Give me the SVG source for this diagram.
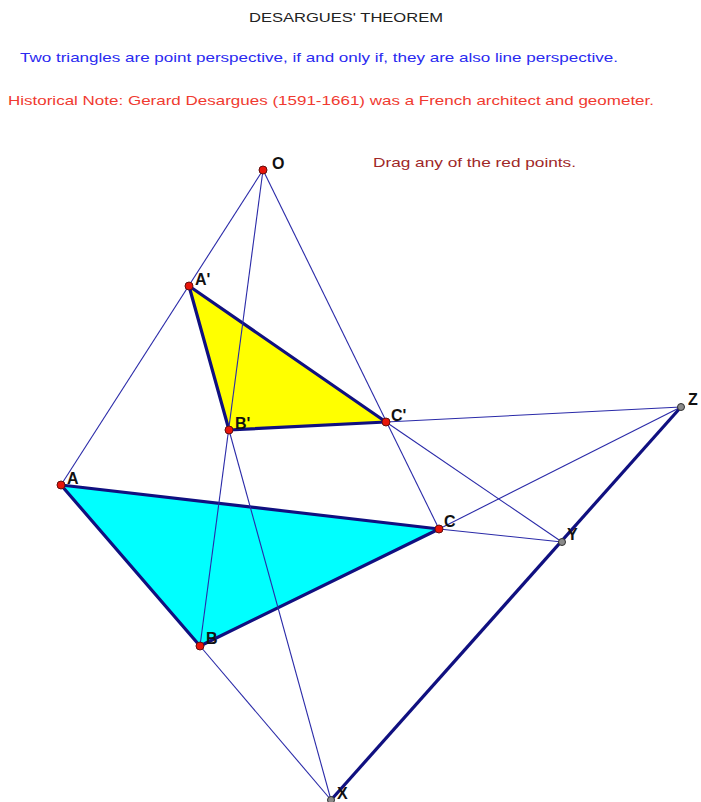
<svg xmlns="http://www.w3.org/2000/svg" width="701" height="802" viewBox="0 0 701 802">
<style>
.txt{font-family:"Liberation Sans",Arial,sans-serif;font-size:13px}
.lbl{font-family:"Liberation Sans",Arial,sans-serif;font-size:16px;font-weight:bold;fill:#111}
.thin{stroke:#2a2aa8;stroke-width:1.1;fill:none}
.thick{stroke:#101080;stroke-width:3.2;fill:none;stroke-linejoin:round}
.tri{stroke:#101080;stroke-width:3.2;stroke-linejoin:round}
.red{fill:#e8140a;stroke:#601010;stroke-width:1}
.gray{fill:#8a8a8a;stroke:#303030;stroke-width:1}
</style>
<rect width="701" height="802" fill="#fff"/>
<text class="txt" x="249" y="22" fill="#222" textLength="194" lengthAdjust="spacingAndGlyphs">DESARGUES' THEOREM</text>
<text class="txt" x="20" y="62" fill="#2a2af0" textLength="598" lengthAdjust="spacingAndGlyphs">Two triangles are point perspective, if and only if, they are also line perspective.</text>
<text class="txt" x="8" y="105" fill="#f03a30" textLength="646" lengthAdjust="spacingAndGlyphs">Historical Note: Gerard Desargues (1591-1661) was a French architect and geometer.</text>
<text class="txt" x="373" y="167" fill="#a02828" textLength="203" lengthAdjust="spacingAndGlyphs">Drag any of the red points.</text>
<g id="triangle-ABC"><polygon class="tri" points="61,485 439,529 200,646" fill="#00ffff"/></g>
<g id="triangle-A1B1C1"><polygon class="tri" points="189,286 386,422 229,430" fill="#ffff00"/></g>
<g id="connectors">
<line class="thin" x1="263" y1="170" x2="61" y2="485"/>
<line class="thin" x1="263" y1="170" x2="200" y2="646"/>
<line class="thin" x1="263" y1="170" x2="439" y2="529"/>
<line class="thin" x1="229" y1="430" x2="331" y2="800"/>
<line class="thin" x1="200" y1="646" x2="331" y2="800"/>
<line class="thin" x1="386" y1="422" x2="562" y2="542"/>
<line class="thin" x1="439" y1="529" x2="562" y2="542"/>
<line class="thin" x1="386" y1="422" x2="681" y2="407"/>
<line class="thin" x1="439" y1="529" x2="681" y2="407"/>
<line class="thick" x1="331" y1="800" x2="681" y2="407"/>
</g>
<g id="O"><circle class="red" cx="263" cy="170" r="4"/><text class="lbl" x="272" y="169">O</text></g>
<g id="A1"><circle class="red" cx="189" cy="286" r="4"/><text class="lbl" x="195" y="285">A'</text></g>
<g id="B1"><circle class="red" cx="229" cy="430" r="4"/><text class="lbl" x="235" y="429">B'</text></g>
<g id="C1"><circle class="red" cx="386" cy="422" r="4"/><text class="lbl" x="391" y="421">C'</text></g>
<g id="A"><circle class="red" cx="61" cy="485" r="4"/><text class="lbl" x="67" y="484">A</text></g>
<g id="B"><circle class="red" cx="200" cy="646" r="4"/><text class="lbl" x="206" y="644">B</text></g>
<g id="C"><circle class="red" cx="439" cy="529" r="4"/><text class="lbl" x="444" y="527">C</text></g>
<g id="X"><circle class="gray" cx="331" cy="800" r="3.5"/><text class="lbl" x="337" y="799">X</text></g>
<g id="Y"><circle class="gray" cx="562" cy="542" r="3.5"/><text class="lbl" x="567" y="540">Y</text></g>
<g id="Z"><circle class="gray" cx="681" cy="407" r="3.5"/><text class="lbl" x="688" y="405">Z</text></g>
</svg>
